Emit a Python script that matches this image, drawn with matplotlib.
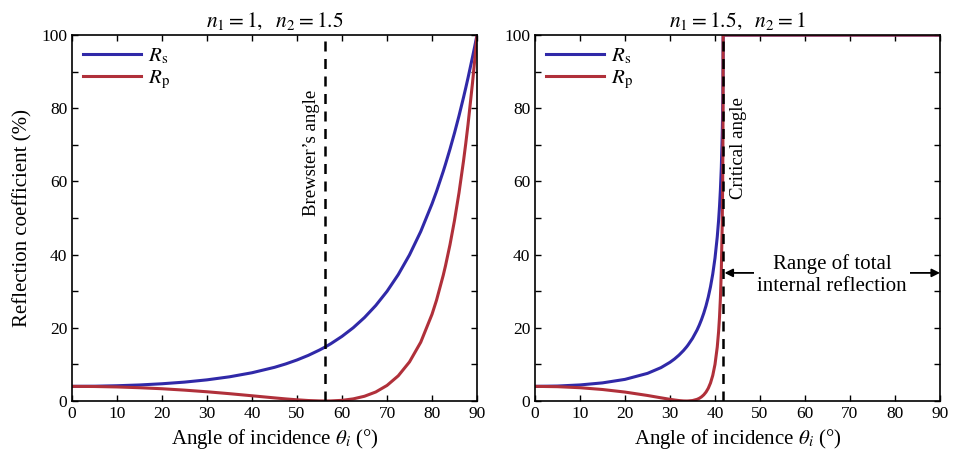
import matplotlib
matplotlib.use("Agg")
import matplotlib.pyplot as plt
from matplotlib.ticker import MultipleLocator

plt.rcParams['font.family'] = ['Liberation Serif', 'DejaVu Serif']
plt.rcParams['mathtext.fontset'] = 'stix'

# Panel 1: n1 = 1, n2 = 1.5 (%)
ang1 = [0, 5, 10, 15, 20, 25, 30, 35, 40, 45, 47.5, 50, 52.5, 55, 56.31, 57.5, 60, 62.5, 65, 67.5,
        70, 72.5, 75, 77.5, 80, 81, 82.5, 83, 84, 85, 86, 87, 87.5, 88, 89, 89.5, 90]
rs1 = [4.00, 4.04, 4.17, 4.38, 4.71, 5.16, 5.78, 6.61, 7.72, 9.20, 10.13, 11.21, 12.46, 13.93, 14.79,
       15.64, 17.66, 20.02, 22.81, 26.09, 29.96, 34.53, 39.93, 46.32, 53.86, 57.24, 62.75, 64.72,
       68.84, 73.23, 77.92, 82.93, 85.55, 88.26, 93.95, 96.92, 100.0]
rp1 = [4.00, 3.96, 3.84, 3.63, 3.35, 2.97, 2.52, 2.00, 1.43, 0.85, 0.57, 0.33, 0.13, 0.02, 0.00,
       0.02, 0.18, 0.58, 1.30, 2.46, 4.25, 6.88, 10.68, 16.07, 23.68, 27.52, 34.36, 36.96,
       42.72, 49.33, 56.88, 65.55, 70.34, 75.48, 86.89, 93.22, 100.0]
brewster = 56.31

# Panel 2: n1 = 1.5, n2 = 1
ang2 = [0, 5, 10, 15, 20, 25, 28, 30, 31, 32, 33, 33.69, 34, 35, 36, 36.5, 37, 37.5, 38, 38.5,
        39, 39.5, 40, 40.5, 40.8, 41, 41.2, 41.4, 41.6, 41.7, 41.75, 41.79, 41.81, 45, 50, 60, 70, 80, 90]
rs2 = [4.00, 4.09, 4.39, 4.95, 5.91, 7.55, 9.12, 10.58, 11.48, 12.54, 13.79, 14.79, 15.29, 17.11,
       19.36, 20.71, 22.24, 23.98, 26.00, 28.38, 31.22, 34.69, 39.05, 44.83, 49.36, 53.10, 57.70,
       63.66, 72.35, 79.11, 84.05, 90.50, 100, 100, 100, 100, 100, 100, 100]
rp2 = [4.00, 3.91, 3.63, 3.14, 2.44, 1.51, 0.87, 0.46, 0.28, 0.12, 0.02, 0.00, 0.01, 0.12,
       0.45, 0.73, 1.13, 1.68, 2.43, 3.47, 4.92, 6.98, 10.01, 14.73, 18.98, 22.85, 28.06,
       35.55, 47.96, 58.88, 67.58, 79.86, 100, 100, 100, 100, 100, 100, 100]
critical = 41.81

titles = [r'$n_1 = 1,\ \ n_2 = 1.5$', r'$n_1 = 1.5,\ \ n_2 = 1$']
xticks = [0, 10, 20, 30, 40, 50, 60, 70, 80, 90]
yticks = [0, 20, 40, 60, 80, 100]

blue = '#3029a8'
red = '#b0303a'

fig = plt.figure(figsize=(9.6, 4.58), dpi=100)
ax1 = fig.add_axes([72/960, 57/458, 405/960, 366/458])
ax2 = fig.add_axes([535/960, 57/458, 405/960, 366/458])

for ax, a, rs, rp, t in [(ax1, ang1, rs1, rp1, titles[0]), (ax2, ang2, rs2, rp2, titles[1])]:
    ax.plot(a, rs, color=blue, lw=2.2, label=r'$R_{\mathrm{s}}$')
    ax.plot(a, rp, color=red, lw=2.2, label=r'$R_{\mathrm{p}}$')
    ax.set_xlim(0, 90)
    ax.set_ylim(0, 100)
    ax.set_xticks(xticks)
    ax.set_yticks(yticks)
    ax.yaxis.set_minor_locator(MultipleLocator(10))
    ax.tick_params(which='both', direction='in', top=True, right=True, labelsize=12.5)
    ax.tick_params(which='major', length=4, width=1)
    ax.tick_params(which='minor', length=4, width=1)
    for s in ax.spines.values():
        s.set_linewidth(1.2)
    ax.set_title(t, fontsize=15.5, pad=6)
    ax.set_xlabel(r'Angle of incidence $\theta_i$ (°)', fontsize=15, labelpad=4)
    ax.legend(loc='upper left', frameon=False, fontsize=15, handlelength=2.75,
              borderaxespad=0.2, borderpad=0.35, labelspacing=0.12, handletextpad=0.35)

ax1.set_ylabel('Reflection coefficient (%)', fontsize=15, labelpad=6)

ax1.axvline(brewster, color='black', ls=(0, (4, 3)), lw=1.8)
ax1.text(53.3, 67.7, "Brewster’s angle", rotation=90, ha='center', va='center', fontsize=13.5)

ax2.axvline(critical, color='black', ls=(0, (4, 3)), lw=1.8)
ax2.text(45.3, 69, 'Critical angle', rotation=90, ha='center', va='center', fontsize=13.5)
ax2.annotate('', xy=(critical + 0.3, 35), xytext=(90, 35),
             arrowprops=dict(arrowstyle='<|-|>', color='black', lw=1.3, mutation_scale=12,
                             shrinkA=0, shrinkB=0))
ax2.text(66, 34.5, 'Range of total\ninternal reflection', ha='center', va='center', fontsize=15,
         linespacing=1.2, bbox=dict(facecolor='white', edgecolor='none', pad=2))

fig.savefig('out.png', dpi=100)
